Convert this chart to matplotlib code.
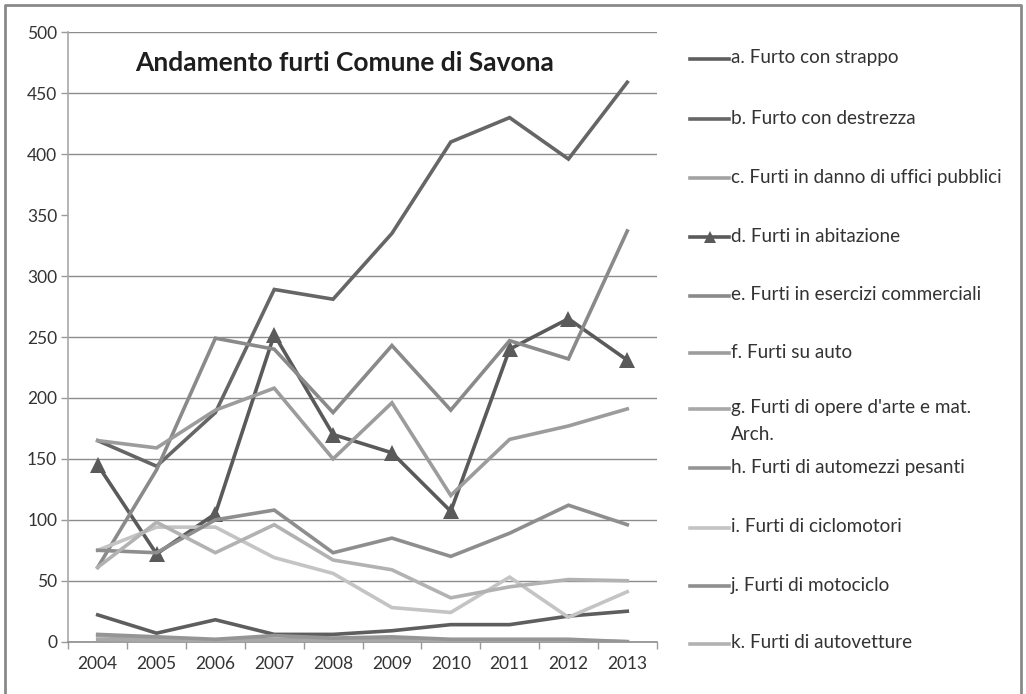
import matplotlib
matplotlib.use("Agg")
import matplotlib.pyplot as plt
from matplotlib.lines import Line2D

plt.rcParams['font.family'] = ['Lato', 'DejaVu Sans']

years = ['2004', '2005', '2006', '2007', '2008', '2009', '2010', '2011', '2012', '2013']

labels = [
    "a. Furto con strappo",
    "b. Furto con destrezza",
    "c. Furti in danno di uffici pubblici",
    "d. Furti in abitazione",
    "e. Furti in esercizi commerciali",
    "f. Furti su auto",
    "g. Furti di opere d'arte e mat.\nArch.",
    "h. Furti di automezzi pesanti",
    "i. Furti di ciclomotori",
    "j. Furti di motociclo",
    "k. Furti di autovetture",
]

a_strappo = [22, 7, 18, 6, 6, 9, 14, 14, 21, 25]
b_destrezza = [165, 144, 188, 289, 281, 335, 410, 430, 396, 459]
c_uffici = [5, 3, 1, 2, 1, 2, 1, 1, 1, 0]
d_abitazione = [145, 72, 105, 252, 170, 155, 107, 240, 265, 231]
e_commerciali = [61, 141, 249, 240, 188, 243, 190, 247, 232, 337]
f_auto = [165, 159, 190, 208, 150, 196, 120, 166, 177, 191]
g_arte = [2, 1, 0, 1, 0, 0, 0, 0, 0, 0]
h_pesanti = [6, 4, 2, 5, 3, 4, 2, 2, 2, 0]
i_ciclomotori = [75, 94, 94, 69, 56, 28, 24, 53, 20, 41]
j_motociclo = [75, 73, 100, 108, 73, 85, 70, 89, 112, 96]
k_autovetture = [61, 98, 73, 96, 67, 59, 36, 45, 51, 50]

series = [a_strappo, b_destrezza, c_uffici, d_abitazione, e_commerciali, f_auto,
          g_arte, h_pesanti, i_ciclomotori, j_motociclo, k_autovetture]

y_ticks = list(range(0, 501, 50))
# the reference picture shows no gridline at 350
grid_values = [v for v in y_ticks if v != 350]

colors = ['#5e5e5e', '#666666', '#a2a2a2', '#5a5a5a', '#8a8a8a', '#9c9c9c',
          '#a8a8a8', '#959595', '#c4c4c4', '#8e8e8e', '#b2b2b2']
markers = [None, None, None, '^', None, None, None, None, None, None, None]

W, H = 1026, 694
fig = plt.figure(figsize=(W / 100, H / 100), dpi=100)
fig.patch.set_facecolor('white')

ax = fig.add_axes([68.3 / W, 1 - 641.7 / H, (656.7 - 68.3) / W, (641.7 - 32.3) / H])

x = list(range(len(years)))
for vals, col, mk in zip(series, colors, markers):
    ax.plot(x, vals, color=col, lw=2.6, marker=mk, markersize=12,
            markeredgewidth=0, solid_joinstyle='miter', zorder=3)

ax.set_xlim(-0.5, len(years) - 0.5)
ax.set_ylim(0, 500)
ax.set_yticks(y_ticks)
ax.set_xticks(x)
ax.set_xticklabels(years)
ax.set_xticks([i - 0.5 for i in range(len(years) + 1)], minor=True)

ax.tick_params(axis='x', which='major', length=0, pad=10, labelsize=12.5, labelcolor='#333333')
ax.tick_params(axis='x', which='minor', length=5, width=1, color='#9a9a9a')
ax.tick_params(axis='y', which='major', length=5, width=1, color='#9a9a9a', pad=3,
               labelsize=12.5, labelcolor='#333333')

for gv in grid_values:
    ax.axhline(gv, color='#8c8c8c', lw=1, zorder=1)

for s in ['top', 'right']:
    ax.spines[s].set_visible(False)
ax.spines['left'].set_color('#a8a8a8')
ax.spines['bottom'].set_color('#8c8c8c')
ax.spines['left'].set_linewidth(1.2)
ax.spines['bottom'].set_linewidth(1.2)

fig.text(345 / W, 1 - 63 / H, "Andamento furti Comune di Savona", ha='center', va='center',
         fontsize=19, fontweight='bold', color='#1e1e1e')

# legend drawn manually to match the reference layout
leg_y = [58, 118, 177, 236, 295, 352, 408, 467, 527, 585, 643]
for lab, col, mk, yy in zip(labels, colors, markers, leg_y):
    fy = 1 - (yy + 1) / H
    fig.add_artist(Line2D([690 / W, 729 / W], [fy, fy], transform=fig.transFigure,
                          color=col, lw=2.6))
    if mk:
        fig.add_artist(Line2D([710 / W], [fy], transform=fig.transFigure, color=col,
                              marker=mk, markersize=9, markeredgewidth=0))
    first, *rest = lab.split('\n')
    fig.text(731 / W, 1 - yy / H, first, ha='left', va='center', fontsize=13.6, color='#333333')
    for k, line in enumerate(rest):
        fig.text(731 / W, 1 - (yy + 26 * (k + 1)) / H, line, ha='left', va='center',
                 fontsize=13.6, color='#333333')

# outer frame (left, top, right)
fig.add_artist(Line2D([5 / W, 5 / W, 1021 / W, 1021 / W], [-0.1, 1 - 5 / H, 1 - 5 / H, -0.1],
                      transform=fig.transFigure, color='#8a8a8a', lw=2))

fig.savefig('out.png', dpi=100)
